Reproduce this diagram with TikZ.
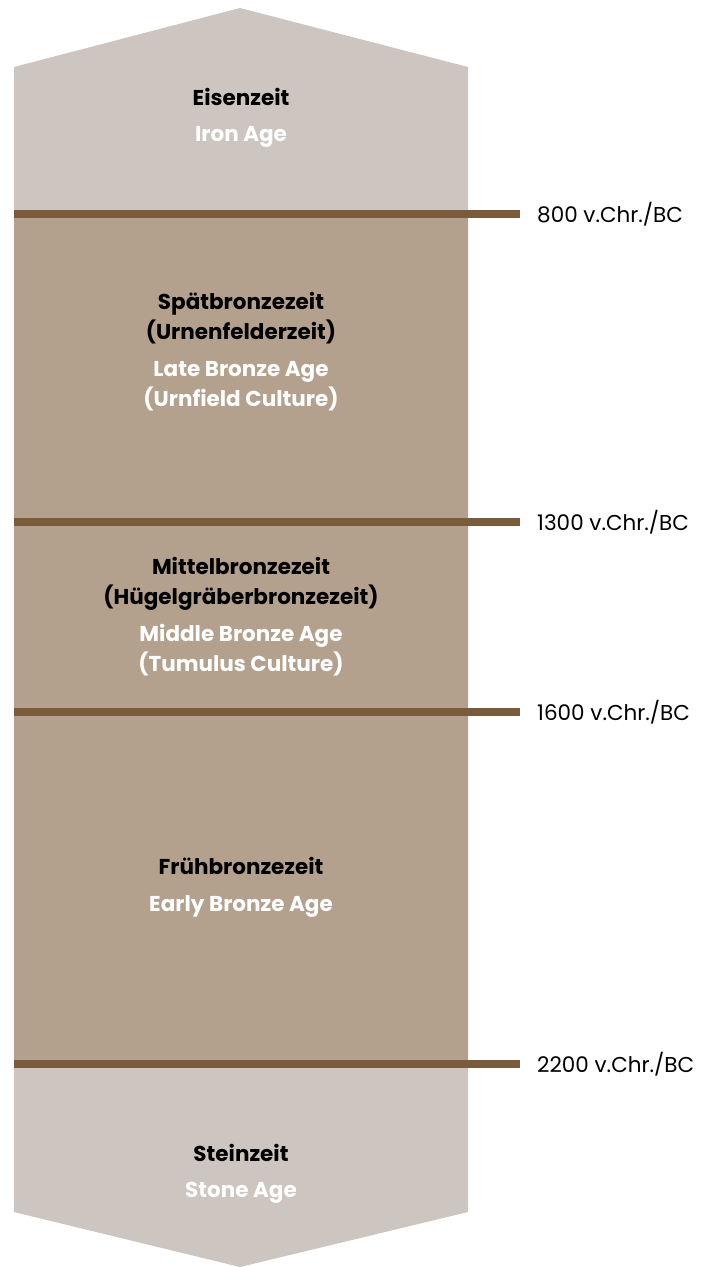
\documentclass[tikz,border=0pt]{standalone}
\usepackage{fontspec}
\setmainfont{Poppins}
\definecolor{stonefill}{HTML}{CDC5BF}
\definecolor{bronzefill}{HTML}{B4A18D}
\definecolor{divider}{HTML}{7A5B3B}
\begin{document}
\begin{tikzpicture}[x=1pt,y=-1pt,
  period/.style={align=center,font=\fontsize{21.5}{29.5}\selectfont\bfseries,text=black,inner sep=0pt},
  english/.style={align=center,font=\fontsize{21.5}{29.5}\selectfont\bfseries,text=white,inner sep=0pt},
  datelabel/.style={anchor=west,font=\fontsize{21.5}{24}\selectfont,text=black,inner sep=0pt},
  boundary/.style={draw=divider,line width=8pt}]
\useasboundingbox (0,0) rectangle (708,1267);
% time column: light outer ages, bronze age band in the middle
\fill[stonefill] (14,67) -- (240,8) -- (468,67) -- (468,1212) -- (240,1267) -- (14,1212) -- cycle;
\fill[bronzefill] (14,214) rectangle (468,1064);

% period names
\node[period]  (iron)     at (241,97)  {Eisenzeit};
\node[english] (ironen)   at (241,137) {Iron Age};
\node[period]  (late)     at (241,318) {Spätbronzezeit\\(Urnenfelderzeit)};
\node[english] (lateen)   at (241,386) {Late Bronze Age\\(Urnfield Culture)};
\node[period]  (middle)   at (241,584) {Mittelbronzezeit\\(Hügelgräberbronzezeit)};
\node[english] (middleen) at (241,650) {Middle Bronze Age\\(Tumulus Culture)};
\node[period]  (early)    at (241,866) {Frühbronzezeit};
\node[english] (earlyen)  at (241,906) {Early Bronze Age};
\node[period]  (stone)    at (241,1153) {Steinzeit};
\node[english] (stoneen)  at (241,1193) {Stone Age};

% boundaries with dates
\foreach \y/\d/\n in {214/800/a,522/1300/b,712/1600/c,1064/2200/d}{
  \coordinate (start\n) at (14,\y);
  \coordinate (end\n) at (520,\y);
  \node[datelabel] (date\n) at (537,\y) {\d\ v.Chr./BC};
  \draw[boundary] (start\n) -- (end\n);
}
\end{tikzpicture}
\end{document}
